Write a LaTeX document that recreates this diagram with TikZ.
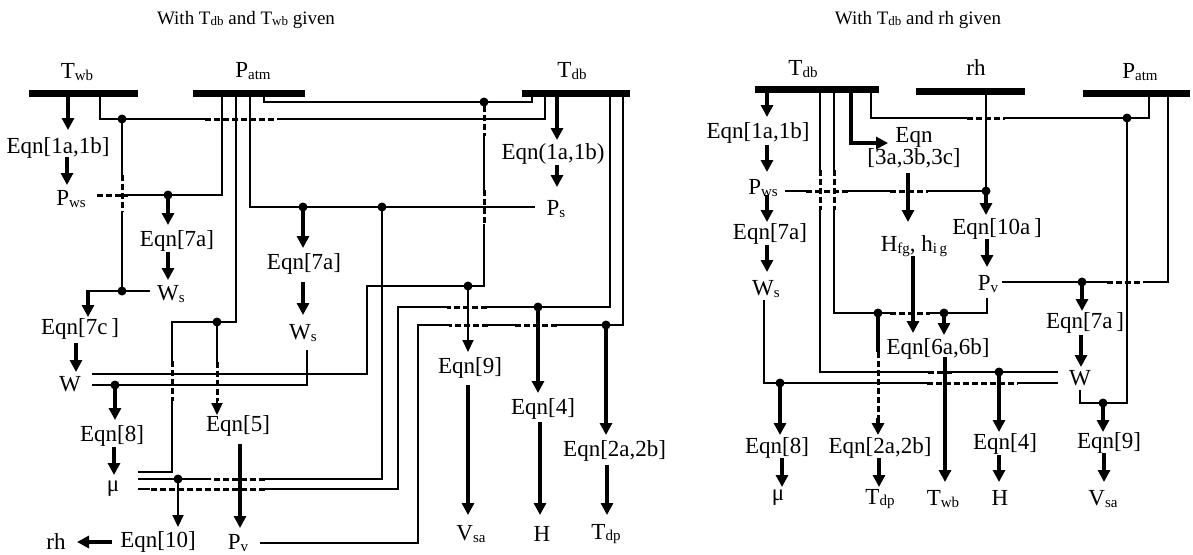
\documentclass[tikz,border=0pt]{standalone}
\usepackage{fontspec}
\setmainfont{Liberation Serif}
\usetikzlibrary{arrows.meta}
\newcommand\lo[1]{\raisebox{-1.5pt}{\fontsize{15}{15}\selectfont #1}}
\newcommand\tlo[1]{\raisebox{-1.2pt}{\fontsize{13}{13}\selectfont #1}}
\begin{document}
\begin{tikzpicture}[x=1pt,y=-1pt,
  ln/.style={line width=1.8pt},
  hop/.style={line width=3pt, dash pattern=on 6pt off 3pt},
  bar/.style={line width=7pt},
  arr/.style={line width=3.8pt, -{Triangle[length=12pt,width=12pt]}},
  marr/.style={line width=2pt, -{Triangle[length=12pt,width=11pt]}},
  lbl/.style={inner sep=0pt, font=\fontsize{23}{20}\selectfont},
  ttl/.style={inner sep=0pt, font=\fontsize{19}{20}\selectfont},
  dot/.style={circle, fill, inner sep=0pt, minimum size=9pt}]
\useasboundingbox (0,0) rectangle (1193,554);
\fill[white] (0,0) rectangle (1193,554);

% ---------- titles
\node[ttl] (titleL) at (246,20) {With T\tlo{db} and T\tlo{wb} given};
\node[ttl] (titleR) at (918,20) {With T\tlo{db} and rh given};

% ---------- LEFT labels
\node[lbl] (Twb) at (77,72) {T\lo{wb}};
\node[lbl] (PatmL) at (253,71) {P\lo{atm}};
\node[lbl] (TdbL) at (572,71) {T\lo{db}};
\node[lbl] (e1L) at (58,148) {Eqn[1a,1b]};
\node[lbl] (PwsL) at (71,199) {P\lo{ws}};
\node[lbl] (e7aL) at (177,241) {Eqn[7a]};
\node[lbl] (WsL) at (171,294) {W\lo{s}};
\node[lbl] (e7c) at (80,329) {Eqn[7c\,]};
\node[lbl] (WL) at (70,384) {W};
\node[lbl] (e8L) at (112,436) {Eqn[8]};
\node[lbl] (muL) at (113,489) {μ};
\node[lbl] (rhL) at (56,542) {rh};
\node[lbl] (e10) at (158,542) {Eqn[10]};
\node[lbl] (PvL) at (238,543) {P\lo{v}};
\node[lbl] (e5) at (238,426) {Eqn[5]};
\node[lbl] (e7aM) at (304,264) {Eqn[7a]};
\node[lbl] (WsM) at (303,333) {W\lo{s}};
\node[lbl] (e1bR) at (553,154) {Eqn(1a,1b)};
\node[lbl] (Ps) at (556,209) {P\lo{s}};
\node[lbl] (e9L) at (470,368) {Eqn[9]};
\node[lbl] (VsaL) at (471,534) {V\lo{sa}};
\node[lbl] (e4L) at (543,409) {Eqn[4]};
\node[lbl] (HL) at (542,534) {H};
\node[lbl,anchor=west] (e2L) at (563,451) {Eqn[2a,2b]};
\node[lbl] (TdpL) at (606,534) {T\lo{dp}};

% ---------- LEFT bars
\draw[bar] (29,93) -- (138,93);
\draw[bar] (193,93) -- (305,93);
\draw[bar] (522,93) -- (630,93);

% ---------- LEFT lines
\draw[ln] (100,93) |- (205,119);
\draw[hop] (205,119) -- (277,119);
\draw[ln] (277,119) -| (545,93);
\draw[ln] (122,119) -- (122,175);
\draw[hop] (122,175) -- (122,212);
\draw[ln] (122,212) -- (122,291);
\draw[ln] (150,291) -- (88,291);
\draw[hop] (97,195) -- (128,195);
\draw[ln] (128,195) -| (222,93);
\draw[ln] (535,207) -| (250,93);
\draw[ln] (236,93) |- (172,322) -- (172,361);
\draw[hop] (172,361) -- (172,401);
\draw[ln] (172,401) |- (138,472);
\draw[ln] (217,322) -- (217,362);
\draw[hop] (217,362) -- (217,401);
\draw[marr] (217,401) -- (217,415);
\draw[ln] (264,93) |- (532,102) -- (532,93);
\draw[ln] (484,102) -- (484,106);
\draw[hop] (484,106) -- (484,136);
\draw[ln] (484,136) -- (484,190);
\draw[hop] (484,190) -- (484,224);
\draw[ln] (484,224) |- (367,286) |- (92,374);
\draw[ln] (307,350) |- (92,385);
\draw[ln] (382,207) |- (265,479);
\draw[hop] (265,479) -- (211,479);
\draw[ln] (211,479) -- (138,479);
\draw[ln] (610,93) |- (487,307);
\draw[hop] (487,307) -- (447,307);
\draw[ln] (447,307) -| (398,489) -- (265,489);
\draw[hop] (265,489) -- (150,489);
\draw[ln] (150,489) -- (138,489);
\draw[ln] (623,93) |- (557,325);
\draw[hop] (557,325) -- (515,325);
\draw[ln] (515,325) -- (488,325);
\draw[hop] (488,325) -- (449,325);
\draw[ln] (449,325) -| (418,543) -- (260,543);

\foreach \p in {(122,119),(122,291),(168,195),(217,322),(303,207),(382,207),(484,102),(468,286),(115,385),(178,479),(538,307),(606,325)}
  \node[dot] at \p {};

\draw[arr] (68,96) -- (68,130);
\draw[arr] (67,157) -- (67,185);
\draw[arr] (168,195) -- (168,225);
\draw[arr] (168,252) -- (168,280);
\draw[arr] (88,290) -- (88,317);
\draw[arr] (76,343) -- (76,372);
\draw[arr] (115,385) -- (115,420);
\draw[arr] (114,447) -- (114,475);
\draw[marr] (178,479) -- (178,527);
\draw[arr] (112,542) -- (77,542);
\draw[arr] (240,444) -- (240,528);
\draw[arr] (303,207) -- (303,248);
\draw[arr] (303,282) -- (303,315);
\draw[arr] (557,96) -- (557,140);
\draw[arr] (557,165) -- (557,187);
\draw[marr] (468,286) -- (468,352);
\draw[arr] (468,385) -- (468,515);
\draw[arr] (538,307) -- (538,393);
\draw[arr] (540,422) -- (540,515);
\draw[arr] (606,325) -- (606,435);
\draw[arr] (607,465) -- (607,515);

% ---------- RIGHT labels
\node[lbl] (TdbR) at (803,69) {T\lo{db}};
\node[lbl] (rhR) at (976,68) {rh};
\node[lbl] (PatmR) at (1140,72) {P\lo{atm}};
\node[lbl] (e1R) at (758,133) {Eqn[1a,1b]};
\node[lbl] (PwsR) at (763,188) {P\lo{ws}};
\node[lbl] (e7aR) at (770,234) {Eqn[7a]};
\node[lbl] (WsR) at (766,289) {W\lo{s}};
\node[lbl] (e8R) at (777,448) {Eqn[8]};
\node[lbl] (muR) at (778,498) {μ};
\node[lbl,align=center] (e3) at (914,148) {Eqn\\{[3a,3b,3c]}};
\node[lbl] (Hfg) at (914,246) {H\lo{fg}, h\lo{i\,g}};
\node[lbl] (e10a) at (997,229) {Eqn[10a\,]};
\node[lbl] (PvR) at (988,284) {P\lo{v}};
\node[lbl] (e7aR2) at (1085,323) {Eqn[7a\,]};
\node[lbl] (WR) at (1080,378) {W};
\node[lbl] (e6) at (938,349) {Eqn[6a,6b]};
\node[lbl] (e2R) at (880,448) {Eqn[2a,2b]};
\node[lbl] (e4R) at (1005,444) {Eqn[4]};
\node[lbl] (e9R) at (1109,443) {Eqn[9]};
\node[lbl] (TdpR) at (880,499) {T\lo{dp}};
\node[lbl] (TwbR) at (943,499) {T\lo{wb}};
\node[lbl] (HR) at (1000,498) {H};
\node[lbl] (VsaR) at (1103,499) {V\lo{sa}};

% ---------- RIGHT bars
\draw[bar] (755,89) -- (879,89);
\draw[bar] (916,91) -- (1025,91);
\draw[bar] (1083,93) -- (1190,93);

% ---------- RIGHT lines
\draw[ln] (871,89) |- (967,118);
\draw[hop] (967,118) -- (1005,118);
\draw[ln] (1005,118) -| (1149,93);
\draw[ln] (986,91) -- (986,191);
\draw[ln] (785,191) -- (806,191);
\draw[hop] (806,191) -- (848,191);
\draw[ln] (848,191) -- (890,191);
\draw[hop] (890,191) -- (928,191);
\draw[ln] (928,191) -- (986,191);
\draw[ln] (820,89) -- (820,170);
\draw[hop] (820,170) -- (820,210);
\draw[ln] (820,210) |- (928,372);
\draw[hop] (928,372) -- (952,372);
\draw[ln] (952,372) -- (1058,372);
\draw[ln] (834,89) -- (834,170);
\draw[hop] (834,170) -- (834,210);
\draw[ln] (834,210) |- (890,313);
\draw[hop] (890,313) -- (930,313);
\draw[ln] (930,313) -| (987,298);
\draw[ln] (764,300) |- (927,383);
\draw[hop] (927,383) -- (1018,383);
\draw[ln] (1018,383) -- (1058,383);
\draw[ln] (1002,282) -- (1107,282);
\draw[hop] (1107,282) -- (1143,282);
\draw[ln] (1143,282) -| (1168,93);
\draw[ln] (1127,118) |- (1080,403) -- (1080,390);

\foreach \p in {(1127,118),(986,191),(878,313),(944,313),(999,372),(780,383),(1082,282),(1103,403)}
  \node[dot] at \p {};

\draw[arr] (851,89) |- (888,143);
\draw[arr] (767,92) -- (767,117);
\draw[arr] (767,145) -- (767,172);
\draw[arr] (767,195) -- (767,222);
\draw[arr] (767,245) -- (767,272);
\draw[arr] (986,191) -- (986,215);
\draw[arr] (908,173) -- (908,222);
\draw[arr] (913,256) -- (913,333);
\draw[arr] (987,239) -- (987,267);
\draw[arr] (944,313) -- (944,335);
\draw[arr] (1082,282) -- (1082,311);
\draw[arr] (1081,335) -- (1081,367);
\draw[arr] (1103,403) -- (1103,432);
\draw[arr] (1104,453) -- (1104,482);
\draw[arr] (999,372) -- (999,432);
\draw[arr] (999,455) -- (999,482);
\draw[arr] (945,357) -- (945,482);
\draw[arr] (780,383) -- (780,435);
\draw[arr] (782,458) -- (782,487);
\draw[line width=3.8pt] (878,313) -- (878,352);
\draw[hop] (878,352) -- (878,420);
\draw[arr] (878,418) -- (878,435);
\draw[arr] (879,458) -- (879,487);
\end{tikzpicture}
\end{document}
